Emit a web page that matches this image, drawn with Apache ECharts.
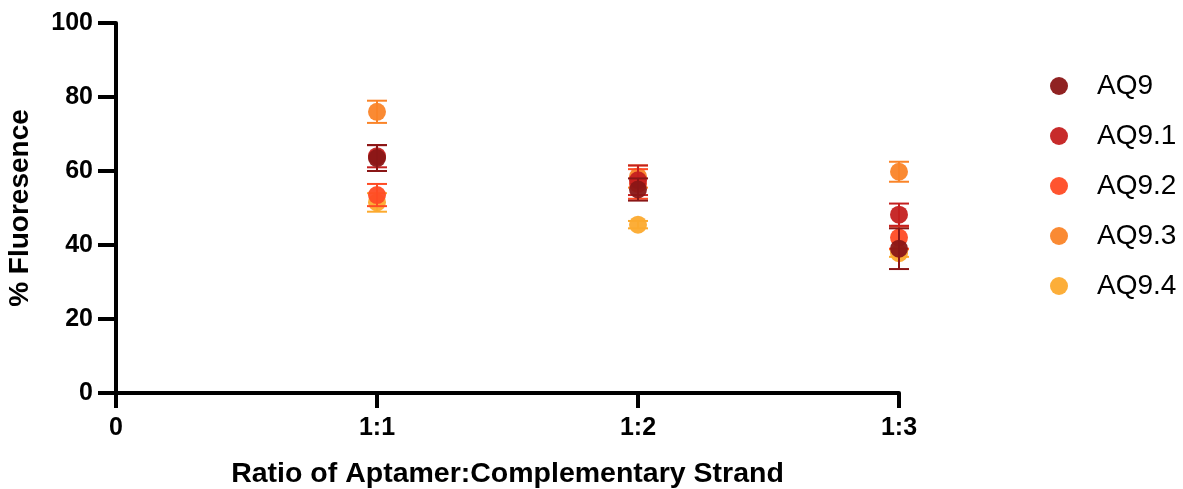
<!DOCTYPE html>
<html>
<head>
<meta charset="utf-8">
<script src="https://cdn.jsdelivr.net/npm/echarts@6/dist/echarts.min.js"></script>
<style>
html, body { margin: 0; padding: 0; background: #fff; }
#main { width: 1183px; height: 489px; }
</style>
</head>
<body>
<div id="main"></div>
<script>
var tickLabels = ['0', '1:1', '1:2', '1:3'];
var ratios = [1, 2, 3];
var names = ['AQ9', 'AQ9.1', 'AQ9.2', 'AQ9.3', 'AQ9.4'];
var colors = ['#8a1616', '#c42020', '#ff4b24', '#fa8428', '#fcaa2e'];

// mean % fluorescence and error (SD) at 1:1, 1:2, 1:3
var aq9 = [63.5, 55.0, 39.0];
var aq9Err = [3.5, 3.0, 5.5];
var aq91 = [64.0, 57.5, 48.2];
var aq91Err = [3.0, 4.0, 3.0];
var aq92 = [53.5, 56.5, 42.0];
var aq92Err = [3.0, 4.0, 3.0];
var aq93 = [76.0, 58.5, 59.8];
var aq93Err = [3.0, 3.0, 2.7];
var aq94 = [51.5, 45.5, 37.8];
var aq94Err = [2.5, 1.0, 1.0];

var means = [aq9, aq91, aq92, aq93, aq94];
var errs = [aq9Err, aq91Err, aq92Err, aq93Err, aq94Err];

var font = "'Liberation Sans', Arial, sans-serif";

var myChart = echarts.init(document.getElementById('main'));

var series = [];
names.forEach(function (name, i) {
	var pts = [];
	var bars = [];
	ratios.forEach(function (r, j) {
		pts.push([r, means[i][j]]);
		bars.push([r, means[i][j] - errs[i][j], means[i][j] + errs[i][j]]);
	});
	series.push({
		name: name + ' err',
		type: 'custom',
		z: 10 - i,
		silent: true,
		data: bars,
		renderItem: function (params, api) {
			var lo = api.coord([api.value(0), api.value(1)]);
			var hi = api.coord([api.value(0), api.value(2)]);
			var half = 10;
			var style = { stroke: colors[i], lineWidth: 2, fill: null };
			return {
				type: 'group',
				children: [
					{ type: 'line', shape: { x1: lo[0], y1: lo[1], x2: hi[0], y2: hi[1] }, style: style },
					{ type: 'line', shape: { x1: lo[0] - half, y1: lo[1], x2: lo[0] + half, y2: lo[1] }, style: style },
					{ type: 'line', shape: { x1: hi[0] - half, y1: hi[1], x2: hi[0] + half, y2: hi[1] }, style: style }
				]
			};
		}
	});
	series.push({
		name: name,
		type: 'scatter',
		z: 10 - i,
		symbol: 'circle',
		symbolSize: 18,
		itemStyle: { color: colors[i], opacity: 0.95 },
		data: pts
	});
});

var option = {
	animation: false,
	backgroundColor: '#fff',
	color: colors,
	legend: {
		data: names,
		orient: 'vertical',
		left: 1045,
		top: 66,
		icon: 'circle',
		itemWidth: 18,
		itemHeight: 18,
		itemGap: 20,
		textStyle: { fontSize: 28, lineHeight: 30, color: '#000', fontFamily: font, padding: [0, 0, 0, 24] }
	},
	grid: {
		left: 116,
		right: 284,
		top: 23,
		bottom: 96,
		containLabel: false,
		outerBoundsMode: 'none'
	},
	xAxis: {
		type: 'value',
		min: 0,
		max: 3,
		interval: 1,
		name: 'Ratio of Aptamer:Complementary Strand',
		nameLocation: 'middle',
		nameGap: 67,
		nameTextStyle: { fontSize: 28.5, fontWeight: 'bold', color: '#000', fontFamily: font },
		splitLine: { show: false },
		axisLine: { show: true, onZero: false, lineStyle: { color: '#000', width: 4 } },
		axisTick: { show: true, length: 15, lineStyle: { color: '#000', width: 4 } },
		axisLabel: {
			fontSize: 25, fontWeight: 'bold', color: '#000', fontFamily: font, margin: 23,
			formatter: function (v) { return tickLabels[v]; }
		}
	},
	yAxis: {
		type: 'value',
		min: 0,
		max: 100,
		interval: 20,
		name: '% Fluoresence',
		nameLocation: 'middle',
		nameGap: 82,
		nameTextStyle: { fontSize: 28, fontWeight: 'bold', color: '#000', fontFamily: font },
		splitLine: { show: false },
		axisLine: { show: true, lineStyle: { color: '#000', width: 4 } },
		axisTick: { show: true, length: 18, lineStyle: { color: '#000', width: 4 } },
		axisLabel: { fontSize: 25, fontWeight: 'bold', color: '#000', fontFamily: font, margin: 23 }
	},
	series: series
};

myChart.setOption(option);
</script>
</body>
</html>
